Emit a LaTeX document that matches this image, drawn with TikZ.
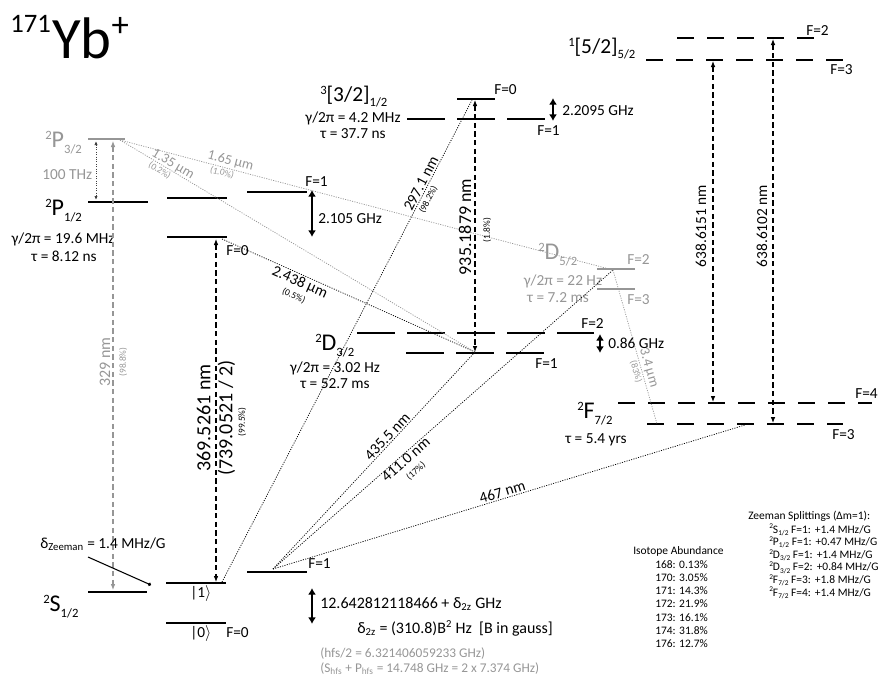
\documentclass[tikz,border=0pt]{standalone}
\usepackage{fontspec}
\setmainfont{Carlito}
\usepackage{tikz}
\usetikzlibrary{positioning,arrows.meta}
\definecolor{ltgray}{RGB}{150,150,150}
\newcommand{\lev}[4][18]{{\fontsize{#1}{#1}\selectfont\raisebox{0.3em}{\fontsize{9.5}{9.5}\selectfont #2}#3\raisebox{-0.25em}{\fontsize{9.5}{9.5}\selectfont #4}}}
\newcommand{\zl}[3]{\raisebox{0.35em}{\fontsize{5.5}{5.5}\selectfont #1}#2\raisebox{-0.2em}{\fontsize{5.5}{5.5}\selectfont #3}}
\newcommand{\ketv}[1]{|#1$\rangle$}
\tikzset{
  lvl/.style ={line width=2pt},
  glvl/.style={line width=1.1pt, draw=ltgray},
  hlvl/.style={line width=2pt, dash pattern=on 28.5pt off 9pt},
  dlvl/.style={line width=2pt, dash pattern=on 12.75pt off 9.75pt},
  tr/.style  ={line width=0.55pt, dash pattern=on 0.8pt off 1pt},
  gtr/.style ={tr, draw=ltgray},
  arr/.style ={{Latex[length=4.5pt,width=3.5pt]}-{Latex[length=4.5pt,width=3.5pt]}, line width=0.8pt, dash pattern=on 4pt off 2.5pt},
  garr/.style={arr, draw=ltgray},
  darr/.style={{Latex[length=3pt,width=2.5pt]}-{Latex[length=3pt,width=2.5pt]}, line width=0.6pt, dash pattern=on 0.8pt off 1pt, draw=black!75},
  spl/.style ={{Latex[length=5pt,width=6pt]}-{Latex[length=5pt,width=6pt]}, line width=1.6pt},
  txt/.style ={font=\fontsize{11.5}{13}\selectfont, inner sep=0pt, anchor=base west},
  ctxt/.style={txt, anchor=base},
  gtxt/.style={txt, text=ltgray},
  wl/.style  ={font=\fontsize{11.5}{13}\selectfont, inner sep=1pt},
  gwl/.style ={font=\fontsize{10.5}{12}\selectfont, inner sep=1pt, text=ltgray},
  pct/.style ={font=\fontsize{7}{8}\selectfont, inner sep=1pt},
  gpct/.style={pct, text=ltgray},
  tbl/.style ={font=\fontsize{8.6}{10}\selectfont, inner sep=0pt, anchor=base west},
}

\begin{document}
\begin{tikzpicture}[x=0.75pt,y=-0.75pt]
\useasboundingbox (0,0) rectangle (881,675);

% title
\node[txt] (ttl) at (10,58) {\raisebox{19.5pt}{\fontsize{20}{20}\selectfont 171}\kern1pt{\fontsize{44}{44}\selectfont Yb}\raisebox{16pt}{\fontsize{26}{26}\selectfont +}};

% levels
\draw[lvl] (88,592) -- (147,592);
\draw[lvl] (166,583) -- (226,583);
\draw[lvl] (166,623) -- (226,623);
\draw[lvl] (247,572) -- (307,572);
\draw[lvl] (88,202) -- (148,202);
\draw[lvl] (167,198) -- (227,198);
\draw[lvl] (247,192) -- (307,192);
\draw[lvl] (167,237) -- (227,237);
\draw[glvl] (88,139) -- (125,139);
\draw[hlvl] (407,119) -- (545,119);
\draw[lvl] (457,99) -- (495,99);
\draw[hlvl] (357,333) -- (594,333);
\draw[hlvl] (406,353) -- (545,353);
\draw[glvl] (597,269) -- (635,269);
\draw[glvl] (597,289) -- (635,289);
\draw[dlvl] (618,403) -- (872,403);
\draw[dlvl] (647,424) -- (843,424);
\draw[dlvl] (677,38) -- (815,38);
\draw[dlvl] (646,60) -- (843,60);

% level labels
\node[gtxt] (lP3) at (45,147) {\lev{2}{P}{3/2}};
\node[gtxt] (lthz) at (42,179) {100 THz};
\node[txt] (lP1) at (45,215) {\lev{2}{P}{1/2}};
\node[ctxt] (gP1) at (63,243) {γ/2π = 19.6 MHz};
\node[ctxt] (tP1) at (64,261) {τ = 8.12 ns};
\node[txt] (lS) at (43,611) {\lev{2}{S}{1/2}};
\node[txt] (k1) at (190,597) {\ketv{1}};
\node[txt] (k0) at (190,637) {\ketv{0}};
\node[txt] (fS0) at (226,637) {F=0};
\node[txt] (fS1) at (308,568) {F=1};
\node[txt] (fP0) at (226,255) {F=0};
\node[txt] (fP1) at (305,186) {F=1};
\node[txt] (lB) at (320,101) {\lev[16]{3}{[3/2]}{1/2}};
\node[ctxt] (gB) at (353,122) {γ/2π = 4.2 MHz};
\node[ctxt] (tB) at (353,138) {τ = 37.7 ns};
\node[txt] (fB0) at (494,94) {F=0};
\node[txt] (fB1) at (537,135) {F=1};
\node[txt] (lD3) at (315,350) {\lev{2}{D}{3/2}};
\node[ctxt] (gD3) at (335,372) {γ/2π = 3.02 Hz};
\node[ctxt] (tD3) at (335,388) {τ = 52.7 ms};
\node[txt] (fD1) at (535,368) {F=1};
\node[txt] (fD2) at (581,328) {F=2};
\node[gtxt] (lD5) at (538,259) {\lev{2}{D}{5/2}};
\node[gtxt, anchor=base] (gD5) at (563,285) {γ/2π = 22 Hz};
\node[gtxt, anchor=base] (tD5) at (558,302) {τ = 7.2 ms};
\node[gtxt] (fE2) at (627,264) {F=2};
\node[gtxt] (fE3) at (627,304) {F=3};
\node[txt] (lF) at (577,418) {\lev{2}{F}{7/2}};
\node[ctxt] (tF) at (596,443) {τ = 5.4 yrs};
\node[txt] (fF4) at (855,398) {F=4};
\node[txt] (fF3) at (832,439) {F=3};
\node[txt] (lA) at (568,53) {\lev[16]{1}{[5/2]}{5/2}};
\node[txt] (fA2) at (806,35) {F=2};
\node[txt] (fA3) at (830,74) {F=3};

% end points
\coordinate (s1) at (222,582);
\coordinate (sf1) at (273,569);
\coordinate (pf0) at (222,239);
\coordinate (p3) at (120,140);
\coordinate (bf0) at (472,100);
\coordinate (d3f1) at (475,352);
\coordinate (d5f2) at (613,270);
\coordinate (f7a) at (745,425);
\coordinate (f7b) at (657,424);

% decays and weak lines
\draw[tr] (s1) -- node[pos=0.82, above, sloped, wl] (l297) {297.1 nm}
  node[pos=0.80, below, sloped, pct, inner sep=2pt] (p297) {(98.2\%)} (bf0);
\draw[tr] (pf0) -- node[pos=0.32, below, sloped, wl, align=center] (l2438)
  {2.438 μm\\[-3pt]{\fontsize{7}{7}\selectfont (0.5\%)}} (d3f1);
\draw[tr] (sf1) -- node[pos=0.59, above, sloped, wl] (l435) {435.5 nm} (d3f1);
\draw[tr] (sf1) -- node[pos=0.38, below, sloped, wl, inner sep=0pt, align=center] (l411)
  {411.0 nm\\[-3pt]{\fontsize{7}{7}\selectfont (17\%)}} (d5f2);
\draw[tr] (sf1) -- node[pos=0.49, above, sloped, wl] (l467) {467 nm} (f7a);
\draw[gtr] (p3) -- node[pos=0.14, above, sloped, gwl, inner sep=0pt] (l135) {1.35 μm}
  node[pos=0.12, below, sloped, gpct] (p135) {(0.2\%)} (d3f1);
\draw[gtr] (p3) -- node[pos=0.22, above, sloped, gwl] (l165) {1.65 μm}
  node[pos=0.21, below, sloped, gpct] (p165) {(1.0\%)} (d5f2);
\draw[gtr] (d5f2) -- node[pos=0.65, above, sloped, gwl] (l34) {3.4 μm}
  node[pos=0.65, below, sloped, gpct] (p34) {(83\%)} (f7b);

% laser arrows
\coordinate (a329t) at (113,141);
\coordinate (a329b) at (113,590);
\coordinate (athzt) at (96,141);
\coordinate (athzb) at (96,200);
\coordinate (a369t) at (216,239);
\coordinate (a369b) at (216,582);
\coordinate (a935t) at (475,100);
\coordinate (a935b) at (475,352);
\coordinate (a615t) at (713,61);
\coordinate (a615b) at (713,402);
\coordinate (a610t) at (773,39);
\coordinate (a610b) at (773,423);
\draw[garr] (a329t) -- (a329b);
\draw[darr] (athzt) -- (athzb);
\draw[arr] (a369t) -- (a369b);
\draw[arr] (a935t) -- (a935b);
\draw[arr] (a615t) -- (a615b);
\draw[arr] (a610t) -- (a610b);
\node[rotate=90, font=\fontsize{12}{13}\selectfont, text=ltgray] (l329) at (105,362) {329 nm};
\node[rotate=90, gpct] (p329) at (123,362) {(98.8\%)};
\node[rotate=90, font=\fontsize{15}{16.5}\selectfont, align=center] (l369) at (216,418)
  {369.5261 nm\\(739.0521 / 2)};
\node[rotate=90, pct] (p369) at (242,422) {(99.5\%)};
\node[rotate=90, font=\fontsize{13.5}{15}\selectfont] (l935) at (465,227) {935.1879 nm};
\node[rotate=90, pct] (p935) at (487,230) {(1.8\%)};
\node[rotate=90, wl] (l615) at (701,226) {638.6151 nm};
\node[rotate=90, wl] (l610) at (762,226) {638.6102 nm};

% hyperfine splittings
\coordinate (h1t) at (312,190);
\coordinate (h1b) at (312,237);
\coordinate (h2t) at (553,98);
\coordinate (h2b) at (553,121);
\coordinate (h3t) at (600,334);
\coordinate (h3b) at (600,353);
\coordinate (h4t) at (312,588);
\coordinate (h4b) at (312,624);
\draw[spl] (h1t) -- (h1b);
\draw[spl] (h2t) -- (h2b);
\draw[spl] (h3t) -- (h3b);
\draw[spl] (h4t) -- (h4b);
\node[txt] (hP) at (318,223) {2.105 GHz};
\node[txt] (hB) at (562,115) {2.2095 GHz};
\node[txt] (hD) at (608,348) {0.86 GHz};
\node[txt, font=\fontsize{12}{13}\selectfont] (hS) at (320,608) {12.642812118466 + δ\textsubscript{2z} GHz};
\node[txt, font=\fontsize{12}{13}\selectfont] (qz) at (357,633) {δ\textsubscript{2z} = (310.8)B\textsuperscript{2} Hz\ \ [B in gauss]};
\node[gtxt, font=\fontsize{10}{11}\selectfont] (hfs) at (320,657) {(hfs/2 = 6.321406059233 GHz)};
\node[gtxt, font=\fontsize{10}{11}\selectfont] (sp) at (320,672) {(S\textsubscript{hfs} + P\textsubscript{hfs} = 14.748 GHz = 2 x 7.374 GHz)};

% Zeeman shift pointer
\node[txt] (dz) at (40,548) {δ\textsubscript{Zeeman} = 1.4 MHz/G};
\coordinate (dza) at (88,557);
\coordinate (dzb) at (151,585);
\draw[line width=0.8pt, -{Circle[length=2.5pt]}] (dza) -- (dzb);

% tables
\node[tbl] (iso) at (633,554) {Isotope Abundance};
\foreach \r [count=\i from 0] in {168: 0.13\%, 170: 3.05\%, 171: 14.3\%, 172: 21.9\%, 173: 16.1\%, 174: 31.8\%, 176: 12.7\%}
  \node[tbl] (iso\i) at (655,{568+13.3*\i}) {\r};
\node[tbl] (zs) at (748,519) {Zeeman Splittings (Δm=1):};
\foreach \r [count=\i from 0] in {
  \zl{2}{S}{1/2} F=1:\kern3pt +1.4 MHz/G,
  \zl{2}{P}{1/2} F=1:\kern3pt +0.47 MHz/G,
  \zl{2}{D}{3/2} F=1:\kern3pt +1.4 MHz/G,
  \zl{2}{D}{3/2} F=2:\kern3pt +0.84 MHz/G,
  \zl{2}{F}{7/2} F=3:\kern3pt +1.8 MHz/G,
  \zl{2}{F}{7/2} F=4:\kern3pt +1.4 MHz/G}
  \node[tbl] (zs\i) at (769,{533+12.6*\i}) {\r};
\end{tikzpicture}
\end{document}
